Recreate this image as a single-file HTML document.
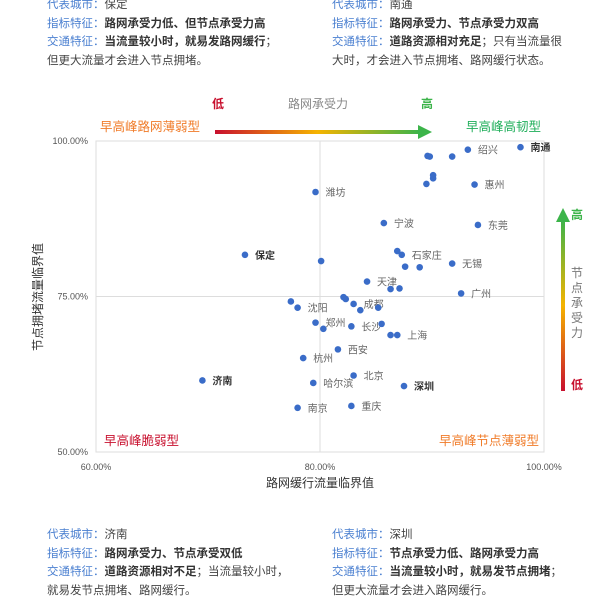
<!DOCTYPE html>
<html><head><meta charset="utf-8"><style>
body{margin:0;background:#fff;width:600px;height:607px;overflow:hidden;font-family:"Liberation Sans","Noto Sans CJK SC",sans-serif}
.blk{position:absolute;font-size:11.5px;line-height:18.6px;color:#444}
.k{color:#4a7fd0}.b{font-weight:bold;color:#333}
</style></head><body>
<div class="blk" style="left:47px;top:-4px"><span class="k">代表城市：</span>保定<br><span class="k">指标特征：</span><span class="b">路网承受力低、但节点承受力高</span><br><span class="k">交通特征：</span><span class="b">当流量较小时，就易发路网缓行</span>；<br>但更大流量才会进入节点拥堵。</div>
<div class="blk" style="left:332px;top:-4px"><span class="k">代表城市：</span>南通<br><span class="k">指标特征：</span><span class="b">路网承受力、节点承受力双高</span><br><span class="k">交通特征：</span><span class="b">道路资源相对充足</span>；只有当流量很<br>大时，才会进入节点拥堵、路网缓行状态。</div>
<div class="blk" style="left:47px;top:526px"><span class="k">代表城市：</span>济南<br><span class="k">指标特征：</span><span class="b">路网承受力、节点承受双低</span><br><span class="k">交通特征：</span><span class="b">道路资源相对不足</span>；当流量较小时，<br>就易发节点拥堵、路网缓行。</div>
<div class="blk" style="left:332px;top:526px"><span class="k">代表城市：</span>深圳<br><span class="k">指标特征：</span><span class="b">节点承受力低、路网承受力高</span><br><span class="k">交通特征：</span><span class="b">当流量较小时，就易发节点拥堵</span>；<br>但更大流量才会进入路网缓行。</div>
<svg id="chart" width="600" height="607" style="position:absolute;left:0;top:0" font-family="Liberation Sans, Noto Sans CJK SC, sans-serif">
<defs>
<linearGradient id="gh" x1="0" x2="1" y1="0" y2="0"><stop offset="0" stop-color="#c8102e"/><stop offset="0.5" stop-color="#f5b400"/><stop offset="1" stop-color="#3cb44a"/></linearGradient>
<linearGradient id="gv" x1="0" x2="0" y1="1" y2="0"><stop offset="0" stop-color="#c8102e"/><stop offset="0.5" stop-color="#f5b400"/><stop offset="1" stop-color="#3cb44a"/></linearGradient>
</defs>
<g>
<rect x="215" y="130" width="205" height="4" fill="url(#gh)"/>
<polygon points="418,125 432,132 418,139" fill="#3cb44a"/>
<text x="218" y="108" font-size="12" fill="#c8102e" text-anchor="middle" font-weight="bold">低</text>
<text x="318" y="108" font-size="12" fill="#888" text-anchor="middle">路网承受力</text>
<text x="427" y="108" font-size="12" fill="#3cb44a" text-anchor="middle" font-weight="bold">高</text>
</g>
<g>
<rect x="561" y="220" width="4" height="171" fill="url(#gv)"/>
<polygon points="556,222 563,208 570,222" fill="#3cb44a"/>
<text x="577" y="219" font-size="12" fill="#3cb44a" text-anchor="middle" font-weight="bold">高</text>
<text x="577" y="389" font-size="12" fill="#c8102e" text-anchor="middle" font-weight="bold">低</text>
<text font-size="12" fill="#777" text-anchor="middle"><tspan x="577" y="277">节</tspan><tspan x="577" y="292">点</tspan><tspan x="577" y="307">承</tspan><tspan x="577" y="322">受</tspan><tspan x="577" y="337">力</tspan></text>
</g>
<text x="100" y="131" font-size="12.5" fill="#f07c2a">早高峰路网薄弱型</text>
<text x="541" y="131" font-size="12.5" fill="#1fae5a" text-anchor="end">早高峰高韧型</text>
<text x="104" y="445" font-size="12.5" fill="#c8102e">早高峰脆弱型</text>
<text x="539" y="445" font-size="12.5" fill="#f07c2a" text-anchor="end">早高峰节点薄弱型</text>
<rect x="96" y="141" width="448" height="311" fill="none" stroke="#ddd"/>
<g id="grid"></g><g id="ticks"></g><g id="pts"></g>
<text x="320" y="487" font-size="12" fill="#333" text-anchor="middle">路网缓行流量临界值</text>
<text transform="translate(42,297) rotate(-90)" font-size="12" fill="#333" text-anchor="middle">节点拥堵流量临界值</text>
</svg>
<script>
const xTicks=[60,80,100];
const yTicks=[50,75,100];
const xRefLine=[80];
const yRefLine=[75];
const cityNames=["南通","绍兴","","","","","","","惠州","潍坊","宁波","东莞","保定","","","石家庄","","","无锡","天津","","","广州","","","成都","","","","沈阳","郑州","","长沙","","","上海","西安","杭州","北京","济南","哈尔滨","深圳","南京","重庆"];
const roadValues=[97.9,93.2,91.8,89.6,89.8,90.1,90.1,89.5,93.8,79.6,85.7,94.1,73.3,80.1,86.9,87.3,87.6,88.9,91.8,84.2,86.3,87.1,92.6,82.1,82.3,83.0,85.2,83.6,77.4,78.0,79.6,80.3,82.8,85.5,86.3,86.9,81.6,78.5,83.0,69.5,79.4,87.5,78.0,82.8];
const nodeValues=[99.0,98.6,97.5,97.6,97.5,94.5,94.0,93.1,93.0,91.8,86.8,86.5,81.7,80.7,82.3,81.7,79.8,79.7,80.3,77.4,76.2,76.3,75.5,74.9,74.6,73.8,73.2,72.8,74.2,73.2,70.8,69.8,70.2,70.6,68.8,68.8,66.5,65.1,62.3,61.5,61.1,60.6,57.1,57.4];
const bold=["南通","保定","济南","深圳"];
const X=v=>96+(v-60)/40*448, Y=v=>452-(v-50)/50*311;
const NS="http://www.w3.org/2000/svg";
function mk(t,a,p){const e=document.createElementNS(NS,t);for(const k in a)e.setAttribute(k,a[k]);p.appendChild(e);return e;}
const g=document.getElementById('grid'),tk=document.getElementById('ticks'),pg=document.getElementById('pts');
xRefLine.forEach(v=>{const l=mk('line',{x1:X(v),x2:X(v),y1:141,y2:452,stroke:'#ddd'},g);

});
yRefLine.forEach(v=>{const l=mk('line',{x1:96,x2:544,y1:Y(v),y2:Y(v),stroke:'#ddd'},g);

});
xTicks.forEach(v=>{const t=mk('text',{x:X(v),y:470,'font-size':9,fill:'#555','text-anchor':'middle'},tk);t.textContent=v.toFixed(2)+'%';

});
yTicks.forEach(v=>{const t=mk('text',{x:88,y:Y(v)+3,'font-size':9,fill:'#555','text-anchor':'end'},tk);t.textContent=v.toFixed(2)+'%';

});
roadValues.forEach((v,i)=>{const c=mk('circle',{cx:X(v),cy:Y(nodeValues[i]),r:3.3,fill:'#3a6cc8'},pg);


const n=cityNames[i];if(n){const t=mk('text',{x:X(v)+10,y:Y(nodeValues[i])+4,'font-size':10,fill:bold.includes(n)?'#333':'#666','font-weight':bold.includes(n)?'bold':'normal'},pg);t.textContent=n;

}});
</script>
</body></html>
